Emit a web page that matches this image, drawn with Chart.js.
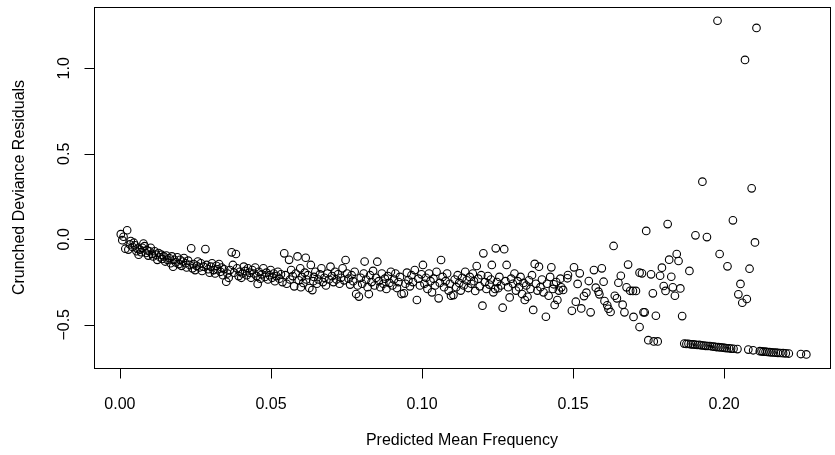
<!DOCTYPE html>
<html>
<head>
<meta charset="utf-8">
<script src="https://cdn.jsdelivr.net/npm/chart.js@4.4.1/dist/chart.umd.min.js"></script>
<style>
html,body{margin:0;padding:0;background:#fff;}
#wrap{width:835px;height:455px;}
</style>
</head>
<body>
<div id="wrap"><canvas id="c" width="835" height="455"></canvas></div>
<script>
// ---- data: [predicted mean frequency, crunched deviance residual] ----
const bandLow = [ // 0.00 - 0.05
[0.0003,0.03],[0.0008,-0.005],[0.0012,0.015],[0.0018,-0.055],[0.0024,0.053],[0.0028,-0.06],[0.0033,-0.03],[0.0036,-0.01],[0.0042,-0.045],[0.0046,-0.02],[0.005,-0.035],[0.0055,-0.07],[0.0058,-0.055],[0.0062,-0.09],[0.0066,-0.06],[0.007,-0.075],[0.0074,-0.05],[0.0078,-0.025],[0.0082,-0.04],[0.0086,-0.08],[0.009,-0.065],[0.0094,-0.095],[0.0098,-0.07],[0.0102,-0.05],[0.0106,-0.085],
[0.011,-0.1],[0.0115,-0.07],[0.012,-0.09],[0.0124,-0.12],[0.0128,-0.08],[0.0133,-0.105],[0.0137,-0.09],[0.014,-0.115],[0.0145,-0.1],[0.015,-0.13],[0.0154,-0.095],[0.0158,-0.12],[0.0163,-0.11],[0.0168,-0.14],[0.0172,-0.1],[0.0176,-0.16],[0.018,-0.12],[0.0185,-0.135],[0.019,-0.105],[0.0195,-0.145],[0.0199,-0.12],
[0.0204,-0.155],[0.0208,-0.13],[0.0212,-0.11],[0.0217,-0.14],[0.0221,-0.165],[0.0226,-0.125],[0.0231,-0.15],[0.0236,-0.053],[0.024,-0.17],[0.0244,-0.145],[0.0249,-0.18],[0.0254,-0.155],[0.0258,-0.13],[0.0263,-0.165],[0.0268,-0.14],[0.0272,-0.185],[0.0277,-0.16],[0.0283,-0.057],[0.0287,-0.15],[0.0292,-0.175],[0.0297,-0.195],
[0.0301,-0.16],[0.0305,-0.14],[0.031,-0.18],[0.0315,-0.2],[0.0319,-0.155],[0.0323,-0.175],[0.0328,-0.145],[0.0333,-0.19],[0.0337,-0.165],[0.0341,-0.21],[0.0345,-0.175],[0.0352,-0.248],[0.0356,-0.2],[0.036,-0.225],[0.0364,-0.18],[0.037,-0.076],[0.0374,-0.15],[0.0378,-0.195],[0.0384,-0.086],[0.0388,-0.17],[0.0393,-0.215],[0.0397,-0.19],
[0.0402,-0.225],[0.0406,-0.2],[0.041,-0.16],[0.0415,-0.185],[0.042,-0.21],[0.0424,-0.17],[0.0429,-0.195],[0.0434,-0.225],[0.0438,-0.18],[0.0443,-0.2],[0.0448,-0.165],[0.0452,-0.215],[0.0456,-0.261],[0.046,-0.19],[0.0465,-0.23],[0.047,-0.205],[0.0475,-0.17],[0.048,-0.22],[0.0485,-0.195],[0.049,-0.235],[0.0495,-0.21],[0.0499,-0.18]
];
const bandMid = [ // 0.05 - 0.10
[0.0504,-0.225],[0.0509,-0.2],[0.0513,-0.245],[0.0518,-0.215],[0.0523,-0.19],[0.0528,-0.23],[0.0533,-0.205],[0.0538,-0.25],[0.0544,-0.082],[0.0548,-0.21],[0.0552,-0.26],[0.056,-0.12],[0.0563,-0.235],[0.0567,-0.18],[0.0572,-0.215],[0.0577,-0.275],[0.0582,-0.2],[0.0588,-0.1],[0.0592,-0.24],[0.0599,-0.28],[0.0597,-0.17],
[0.0602,-0.22],[0.0607,-0.255],[0.0612,-0.195],[0.0615,-0.108],[0.0617,-0.235],[0.0622,-0.21],[0.0627,-0.285],[0.0632,-0.15],[0.0637,-0.297],[0.064,-0.245],[0.0642,-0.22],[0.0647,-0.19],[0.0652,-0.26],[0.0657,-0.235],[0.0662,-0.205],[0.0667,-0.17],[0.0672,-0.25],[0.0677,-0.225],[0.0682,-0.27],[0.0687,-0.2],[0.0692,-0.235],[0.0697,-0.16],
[0.0702,-0.215],[0.0707,-0.25],[0.0712,-0.19],[0.0717,-0.235],[0.0722,-0.205],[0.0727,-0.26],[0.0732,-0.225],[0.0737,-0.17],[0.0742,-0.24],[0.0747,-0.121],[0.0752,-0.2],[0.0757,-0.23],[0.0762,-0.265],[0.0767,-0.21],[0.0772,-0.245],[0.0777,-0.19],[0.0782,-0.32],[0.0787,-0.27],[0.0791,-0.335],[0.0797,-0.225],
[0.0802,-0.26],[0.0807,-0.2],[0.081,-0.13],[0.0815,-0.235],[0.082,-0.28],[0.0824,-0.32],[0.0828,-0.21],[0.0833,-0.25],[0.0838,-0.185],[0.0843,-0.27],[0.0848,-0.225],[0.0852,-0.131],[0.0857,-0.245],[0.0862,-0.28],[0.0867,-0.2],[0.0872,-0.26],[0.0877,-0.23],[0.0882,-0.29],[0.0887,-0.215],[0.0892,-0.255],[0.0897,-0.19],
[0.0902,-0.27],[0.0907,-0.235],[0.0912,-0.2],[0.0917,-0.285],[0.0922,-0.25],[0.0927,-0.22],[0.0932,-0.32],[0.094,-0.316],[0.0945,-0.26],[0.095,-0.195],[0.0955,-0.24],[0.096,-0.275],[0.0965,-0.21],[0.097,-0.25],[0.0976,-0.18],[0.0983,-0.355],[0.0988,-0.23],[0.0993,-0.27],[0.0998,-0.205]
];
const bandHigh = [ // 0.10 - 0.146
[0.1003,-0.15],[0.1008,-0.26],[0.1013,-0.225],[0.1018,-0.29],[0.1023,-0.2],[0.1028,-0.245],[0.1033,-0.31],[0.1038,-0.23],[0.1043,-0.27],[0.1048,-0.19],[0.1055,-0.345],[0.1059,-0.255],[0.1063,-0.121],[0.1068,-0.22],[0.1073,-0.28],[0.1078,-0.245],[0.1083,-0.2],[0.1088,-0.3],[0.1092,-0.26],[0.1096,-0.33],
[0.1104,-0.326],[0.1108,-0.235],[0.1113,-0.28],[0.1118,-0.21],[0.1123,-0.255],[0.1128,-0.3],[0.1133,-0.225],[0.1138,-0.27],[0.1143,-0.19],[0.1148,-0.24],[0.1153,-0.285],[0.1158,-0.22],[0.1163,-0.26],[0.1168,-0.2],[0.1172,-0.245],[0.1176,-0.302],[0.1181,-0.156],[0.1186,-0.23],[0.1191,-0.275],[0.1196,-0.21],[0.12,-0.388],[0.1203,-0.082],
[0.1208,-0.25],[0.1213,-0.29],[0.1218,-0.215],[0.1223,-0.265],[0.1228,-0.235],[0.1231,-0.15],[0.1236,-0.31],[0.1242,-0.29],[0.1244,-0.053],[0.1248,-0.25],[0.1252,-0.286],[0.1256,-0.22],[0.1261,-0.27],[0.1267,-0.4],[0.1272,-0.058],[0.1276,-0.245],[0.128,-0.15],[0.1285,-0.28],[0.129,-0.34],[0.1295,-0.23],
[0.1301,-0.26],[0.1306,-0.2],[0.1311,-0.3],[0.1316,-0.245],[0.1321,-0.28],[0.1326,-0.22],[0.1331,-0.32],[0.1336,-0.255],[0.134,-0.355],[0.1345,-0.27],[0.1349,-0.336],[0.1354,-0.24],[0.1359,-0.29],[0.1364,-0.21],[0.1368,-0.413],[0.1373,-0.144],[0.1377,-0.26],[0.1382,-0.3],[0.1387,-0.16],[0.1392,-0.28],[0.1397,-0.235],
[0.1402,-0.31],[0.141,-0.453],[0.1414,-0.26],[0.1419,-0.33],[0.1424,-0.22],[0.1428,-0.164],[0.1433,-0.29],[0.1436,-0.263],[0.1439,-0.384],[0.1444,-0.25],[0.1448,-0.355],[0.1453,-0.3],[0.1458,-0.23]
];
const tailScatter = [ // 0.146 - 0.211
[0.1461,-0.281],[0.1467,-0.296],[0.1481,-0.228],[0.1483,-0.209],[0.1496,-0.418],[0.1503,-0.164],[0.1509,-0.365],[0.1515,-0.261],[0.1522,-0.199],[0.1527,-0.404],[0.1536,-0.332],[0.1544,-0.312],[0.1552,-0.244],[0.1558,-0.427],[0.1569,-0.18],[0.1575,-0.283],[0.1584,-0.306],[0.1587,-0.322],[0.1595,-0.17],
[0.1601,-0.248],[0.1604,-0.361],[0.1613,-0.386],[0.1617,-0.406],[0.1624,-0.425],[0.1634,-0.039],[0.1638,-0.33],[0.1645,-0.345],[0.165,-0.254],[0.1658,-0.213],[0.1664,-0.382],[0.167,-0.427],[0.1677,-0.281],[0.1682,-0.148],[0.1689,-0.301],[0.1698,-0.302],
[0.17,-0.454],[0.1708,-0.302],[0.172,-0.195],[0.1728,-0.199],[0.172,-0.513],[0.1733,-0.427],[0.1737,-0.427],[0.1742,0.049],[0.1758,-0.205],[0.1764,-0.316],[0.1774,-0.447],[0.1788,-0.213],[0.1794,-0.166],
[0.18,-0.273],[0.1806,-0.302],[0.1813,0.089],[0.1818,-0.119],[0.1825,-0.219],[0.183,-0.281],[0.1837,-0.33],[0.1843,-0.086],[0.1849,-0.127],[0.1855,-0.287],[0.1861,-0.449],[0.1885,-0.185],
[0.1905,0.023],[0.1928,0.337],[0.1943,0.013],[0.1978,1.278],[0.1985,-0.086],[0.2011,-0.158],[0.2029,0.111],[0.2047,-0.322],[0.2054,-0.261],[0.206,-0.371],[0.2069,1.049],[0.2075,-0.349],[0.2084,-0.172],[0.2091,0.298],[0.2102,-0.018],[0.2107,1.236]
];
const zeroCountChain = [ // lower boundary of residuals
[0.1749,-0.59],[0.1767,-0.597],[0.178,-0.597],
[0.1868,-0.61],[0.1875,-0.612],[0.1882,-0.611],[0.189,-0.614],[0.1897,-0.614],[0.1904,-0.616],[0.1911,-0.618],[0.1918,-0.617],[0.1925,-0.62],[0.1932,-0.621],[0.1939,-0.623],[0.1946,-0.624],[0.1953,-0.624],[0.196,-0.627],[0.1967,-0.628],[0.1974,-0.63],[0.1981,-0.631],[0.1988,-0.632],[0.1995,-0.633],[0.2002,-0.635],[0.2009,-0.637],[0.2016,-0.637],[0.2023,-0.639],[0.2031,-0.64],[0.2044,-0.642],
[0.208,-0.645],[0.2096,-0.649],
[0.2118,-0.654],[0.2124,-0.655],[0.213,-0.657],[0.2137,-0.657],[0.2143,-0.659],[0.215,-0.66],[0.2157,-0.661],[0.2164,-0.662],[0.2171,-0.663],[0.2178,-0.664],[0.2186,-0.665],[0.2195,-0.666],[0.2204,-0.667],[0.2214,-0.668],
[0.2254,-0.671],[0.2272,-0.673]
];
const xTicks = [0.00, 0.05, 0.10, 0.15, 0.20];
const xTickLabels = ["0.00", "0.05", "0.10", "0.15", "0.20"];
const yTicks = [-0.5, 0.0, 0.5, 1.0];
const yTickLabels = ["\u22120.5", "0.0", "0.5", "1.0"];
const xTitle = "Predicted Mean Frequency";
const yTitle = "Crunched Deviance Residuals";

const allPoints = [].concat(bandLow, bandMid, bandHigh, tailScatter, zeroCountChain)
  .map(p => ({x: p[0], y: p[1]}));

const FONT = '16px "Liberation Sans", Arial, Helvetica, sans-serif';

const rAxes = {
  id: 'rAxes',
  afterDraw(chart) {
    const ctx = chart.ctx, a = chart.chartArea;
    const xs = chart.scales.x, ys = chart.scales.y;
    ctx.save();
    ctx.strokeStyle = '#000';
    ctx.lineWidth = 1;
    // box
    ctx.strokeRect(Math.round(a.left) + 0.5, Math.round(a.top) + 0.5,
                   Math.round(a.right - a.left), Math.round(a.bottom - a.top));
    ctx.fillStyle = '#000';
    ctx.font = FONT;
    // x axis ticks
    const yb = Math.round(a.bottom) + 0.5;
    ctx.beginPath();
    ctx.moveTo(Math.round(xs.getPixelForValue(xTicks[0])) + 0.5, yb);
    ctx.lineTo(Math.round(xs.getPixelForValue(xTicks[xTicks.length - 1])) + 0.5, yb);
    xTicks.forEach(v => {
      const px = Math.round(xs.getPixelForValue(v)) + 0.5;
      ctx.moveTo(px, yb); ctx.lineTo(px, yb + 10);
    });
    ctx.stroke();
    ctx.textAlign = 'center';
    ctx.textBaseline = 'alphabetic';
    xTicks.forEach((v, i) => {
      ctx.fillText(xTickLabels[i], xs.getPixelForValue(v), 408.5);
    });
    ctx.fillText(xTitle, (a.left + a.right) / 2, 445);
    // y axis ticks
    const xl = Math.round(a.left) + 0.5;
    ctx.beginPath();
    ctx.moveTo(xl, Math.round(ys.getPixelForValue(yTicks[0])) + 0.5);
    ctx.lineTo(xl, Math.round(ys.getPixelForValue(yTicks[yTicks.length - 1])) + 0.5);
    yTicks.forEach(v => {
      const py = Math.round(ys.getPixelForValue(v)) + 0.5;
      ctx.moveTo(xl, py); ctx.lineTo(xl - 10, py);
    });
    ctx.stroke();
    yTicks.forEach((v, i) => {
      ctx.save();
      ctx.translate(69, ys.getPixelForValue(v));
      ctx.rotate(-Math.PI / 2);
      ctx.fillText(yTickLabels[i], 0, 0);
      ctx.restore();
    });
    ctx.save();
    ctx.translate(24, (a.top + a.bottom) / 2);
    ctx.rotate(-Math.PI / 2);
    ctx.fillText(yTitle, 0, 0);
    ctx.restore();
    ctx.restore();
  }
};

new Chart(document.getElementById('c'), {
  type: 'scatter',
  data: {
    datasets: [{
      data: allPoints,
      pointStyle: 'circle',
      pointRadius: 3.8,
      pointBorderWidth: 1.1,
      borderColor: '#000',
      pointBorderColor: '#000',
      backgroundColor: 'rgba(0,0,0,0)',
      pointBackgroundColor: 'rgba(0,0,0,0)'
    }]
  },
  options: {
    responsive: false,
    animation: false,
    devicePixelRatio: 1,
    layout: { padding: { left: 94, top: 7, right: 2, bottom: 87 } },
    plugins: { legend: { display: false }, tooltip: { enabled: false } },
    scales: {
      x: { type: 'linear', min: -0.00857, max: 0.2350, display: false },
      y: { type: 'linear', min: -0.7526, max: 1.3585, display: false }
    }
  },
  plugins: [rAxes]
});
</script>
</body>
</html>
